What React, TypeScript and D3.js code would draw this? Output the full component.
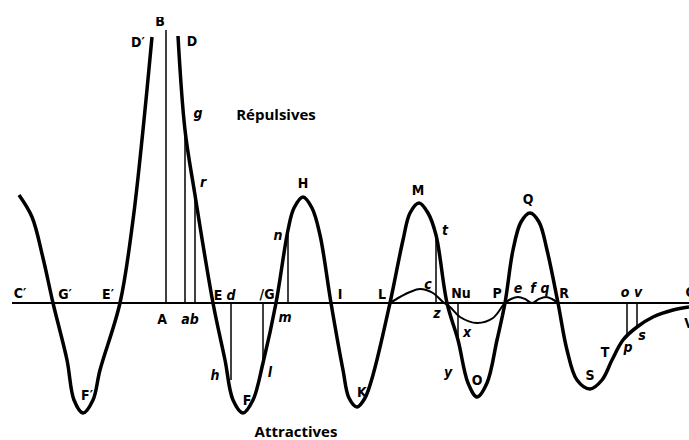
import React from 'react';
import * as d3 from 'd3';

// Boscovich force curve: distance from the particle A, force (+ repulsive, - attractive)
const leftDist = [-14.7, -13.4, -12.3, -11.3, -9.9, -9.2, -8.3, -7.3, -6.6, -4.6, -3.3, -2.3, -1.4];
const leftForce = [10.8, 8.6, 4.5, 0, -5.7, -9.7, -11.0, -9.7, -6.7, 0, 8.3, 17.3, 26.6];

const mainDist = [1.2, 1.9, 2.9, 4.7, 5.9, 6.7, 7.7, 8.7, 9.7, 11.0, 12.2, 12.8, 13.7, 14.6, 15.4, 16.5,
  17.7, 18.3, 19.1, 19.9, 20.7, 22.4, 23.7, 24.4, 25.3, 26.2, 27.0, 28.1, 29.2, 30.2, 31.1, 32.1, 33.1,
  33.9, 34.7, 35.5, 36.4, 37.3, 38.1, 39.2, 40.1, 41.1, 42.4, 43.6, 44.6, 45.7, 47.1, 48.7, 50.7, 52.3];
const mainForce = [26.7, 17.3, 10.8, 0, -5.7, -9.7, -11.0, -9.7, -6.0, 0, 7.3, 9.5, 10.6, 9.5, 6.8, 0,
  -6.7, -9.5, -10.4, -9.5, -7.2, 0, 6.3, 9.0, 10.0, 9.0, 6.8, 0, -3.7, -8.0, -9.4, -8.0, -3.7,
  0, 5.3, 8.1, 9.0, 8.1, 5.3, 0, -4.7, -7.7, -8.6, -7.7, -5.7, -3.7, -2.4, -1.4, -0.7, -0.4];

// the thin secondary curve L c z x P e f q R
const thinDist = [22.4, 23.4, 24.4, 25.4, 26.7, 27.7, 28.4, 29.4, 31.1, 32.7, 33.9, 34.5, 35.2, 35.9, 36.6, 37.3, 38.0, 38.6, 39.2];
const thinForce = [0, 0.6, 1.1, 1.4, 1.0, 0.1, -0.4, -1.4, -2.0, -1.5, 0, 0.4, 0.6, 0.4, 0, 0.4, 0.6, 0.4, 0];

// ordinates drawn from the axis
const ordDist = [0, 1.9, 2.9, 6.5, 9.7, 12.2, 27.0, 29.2, 46.1, 47.1];
const ordForce = [27.3, 17.3, 10.6, -7.7, -6.0, 7.3, 6.8, -3.5, -3.2, -2.4];

const labelText = ['B', 'D′', 'D', 'g', 'r', 'H', 'M', 'Q', 'n', 't', 'C′', 'G′', 'E′', 'E', 'd', '/G', 'I', 'L',
  'c', 'Nu', 'P', 'e', 'f', 'q', 'R', 'o', 'v', 'C', 'A', 'ab', 'm', 'z', 'x', 'V', 's', 'p', 'T', 'y', 'h',
  'l', 'S', 'O', 'K', 'F′', 'F'];
const labelDist = [-0.6, -2.8, 2.6, 3.2, 3.7, 13.7, 25.2, 36.2, 11.2, 27.9, -14.6, -10.1, -5.8, 5.2, 6.5, 10.1, 17.4, 21.6,
  26.2, 29.5, 33.1, 35.2, 36.7, 37.9, 39.8, 45.9, 47.2, 52.4, -0.4, 2.4, 11.9, 27.1, 30.1, 52.3, 47.6, 46.2, 43.9, 28.2, 4.9,
  10.4, 42.4, 31.1, 19.6, -7.9, 8.1];
const labelForce = [28.2, 26.1, 26.2, 19.0, 12.1, 12.0, 11.3, 10.4, 6.8, 7.3, 1.0, 0.9, 0.9, 0.8, 0.8, 0.9, 0.9, 0.9,
  1.9, 1.0, 1.0, 1.5, 1.5, 1.5, 1.0, 1.1, 1.1, 1.1, -1.6, -1.6, -1.4, -1.0, -2.9, -2.0, -3.2, -4.4, -4.9, -6.9, -7.2,
  -6.9, -7.2, -7.7, -8.9, -9.2, -9.7];

const W = 689;
const H = 440;

export default function App() {
  const x = d3.scaleLinear().domain([-16.6, 52.3]).range([0, W]);
  const y = d3.scaleLinear().domain([-13.7, 30.3]).range([H, 0]);

  const line = d3.line<[number, number]>()
    .x(d => x(d[0]))
    .y(d => y(d[1]))
    .curve(d3.curveCatmullRom.alpha(0.5));

  const pts = (xs: number[], ys: number[]) => xs.map((v, i) => [v, ys[i]] as [number, number]);

  const isLower = (t: string) => /^[a-z]/.test(t);

  return (
    <svg width={W} height={H} style={{ position: 'absolute', left: 0, top: 0, background: '#fff' }}>
      <defs>
        <clipPath id="topclip" clipPathUnits="userSpaceOnUse">
          <rect x={0} y={17} width={W} height={H} />
        </clipPath>
      </defs>
      {/* axis */}
      <line x1={12} x2={W} y1={y(0)} y2={y(0)} stroke="#000" strokeWidth={2} />
      {/* ordinates */}
      {ordDist.map((d, i) => (
        <line key={i} x1={x(d)} x2={x(d)} y1={y(0)} y2={y(ordForce[i])} stroke="#000" strokeWidth={1.5} />
      ))}
      <path d={line(pts(thinDist, thinForce)) || ''} fill="none" stroke="#000" strokeWidth={2} />
      <path d={line(pts(leftDist, leftForce)) || ''} fill="none" stroke="#000" strokeWidth={3.5} />
      <path d={line(pts(mainDist, mainForce)) || ''} fill="none" stroke="#000" strokeWidth={3.5} />
      {labelText.map((t, i) => (
        <g key={i} clipPath={t === 'B' ? 'url(#topclip)' : undefined}>
          <text
            x={x(labelDist[i])}
            y={y(labelForce[i])}
            textAnchor="middle"
            dominantBaseline="central"
            fontFamily="DejaVu Sans Condensed, DejaVu Sans, sans-serif"
            fontSize={14}
            fontStyle={isLower(t) ? 'italic' : 'normal'}
            fontWeight="bold"
            fill="#000"
          >
            {t}
          </text>
        </g>
      ))}
      <text x={276} y={114} textAnchor="middle" dominantBaseline="central" fontFamily="Open Sans" fontWeight="bold" fontSize={15}>Répulsives</text>
      <text x={296} y={431} textAnchor="middle" dominantBaseline="central" fontFamily="Open Sans" fontWeight="bold" fontSize={15}>Attractives</text>
    </svg>
  );
}
